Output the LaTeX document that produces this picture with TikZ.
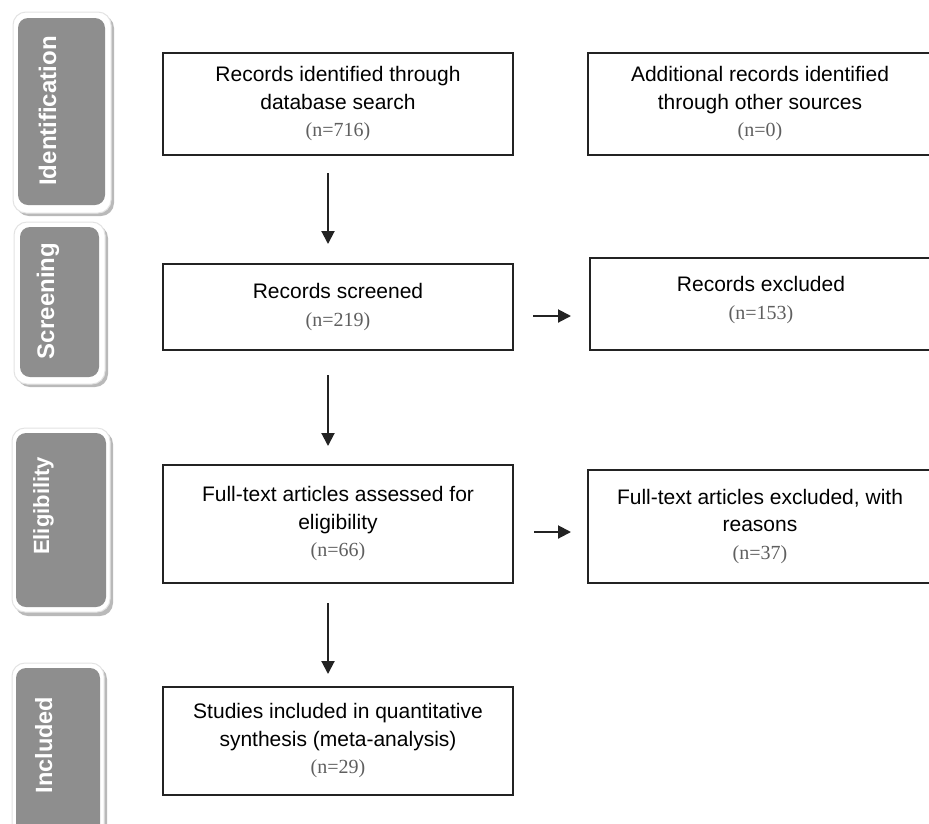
\documentclass[tikz,border=0pt]{standalone}
\usepackage{fontspec}
\setmainfont{Liberation Sans}
\newfontfamily\nserif{Liberation Serif}
\usetikzlibrary{arrows.meta}
\definecolor{tabgray}{RGB}{142,142,142}
\definecolor{ngray}{RGB}{95,95,95}
\definecolor{boxline}{RGB}{35,35,35}
\newcommand{\nval}[1]{{\nserif\fontsize{20}{27.5}\selectfont\color{ngray}#1}}
\tikzset{
  flowbox/.style={draw=boxline, line width=2pt, fill=white, align=center,
    inner sep=0pt, font=\fontsize{21}{27.5}\selectfont},
  flowarrow/.style={draw=boxline, line width=2pt, -{Triangle[length=13pt,width=13pt]}},
  tabshadow/.style={fill=gray!55, draw=none, rounded corners=13pt},
  tabouter/.style={fill=white, draw=gray!22, line width=1pt, rounded corners=13pt},
  tabinner/.style={fill=tabgray, draw=none, rounded corners=10pt},
  tablabel/.style={rotate=90, text=white, anchor=base, inner sep=0pt,
    font=\bfseries\fontsize{24}{28}\selectfont}
}
\begin{document}
\begin{tikzpicture}[x=1pt, y=-1pt]
\useasboundingbox (0,0) rectangle (929,823);
\fill[white] (0,0) rectangle (929,823);

% ---- side tabs ----
% Identification
\path[tabshadow] (16,15) rectangle (114,216);
\path[tabouter] (13,12) rectangle (111,213);
\path[tabinner] (18,18) rectangle (105,205);
\node[tablabel] (tid) at (56,111) {Identification};
% Screening
\path[tabshadow] (17,225) rectangle (108,387);
\path[tabouter] (14,222) rectangle (105,384);
\path[tabinner] (20,227) rectangle (99,377);
\node[tablabel] (tsc) at (54,301) {Screening};
% Eligibility
\path[tabshadow] (15,431) rectangle (113,616);
\path[tabouter] (12,428) rectangle (110,612);
\path[tabinner] (16,433) rectangle (106,607);
\node[tablabel, font=\bfseries\fontsize{22}{26}\selectfont] (tel) at (49,506) {Eligibility};
% Included
\path[tabshadow] (15,666) rectangle (107,850);
\path[tabouter] (12,663) rectangle (104,846);
\path[tabinner] (16,668) rectangle (100,840);
\node[tablabel, font=\bfseries\fontsize{23.5}{28}\selectfont] (tin) at (52,745) {Included};

% ---- boxes ----
\node[flowbox, minimum width=350pt, minimum height=102pt] (b1) at (338,104)
  {Records identified through\\ database search\\ \nval{(n=716)}};
\node[flowbox, minimum width=344pt, minimum height=102pt] (b2) at (760,104)
  {Additional records identified\\ through other sources\\ \nval{(n=0)}};
\node[flowbox, minimum width=350pt, minimum height=86pt] (b3) at (338,307)
  {Records screened\\ \nval{(n=219)}};
\node[flowbox, minimum width=342pt, minimum height=92pt] (b4) at (761,304)
  {Records excluded\\ \nval{(n=153)}\\[-15pt]\mbox{}};
\node[flowbox, minimum width=350pt, minimum height=118pt] (b5) at (338,524)
  {Full-text articles assessed for\\ eligibility\\ \nval{(n=66)}};
\node[flowbox, minimum width=344pt, minimum height=113pt] (b6) at (760,526.5)
  {Full-text articles excluded, with\\ reasons\\ \nval{(n=37)}};
\node[flowbox, minimum width=350pt, minimum height=108pt] (b7) at (338,741)
  {Studies included in quantitative\\ synthesis (meta-analysis)\\ \nval{(n=29)}};

% ---- connectors ----
\draw[flowarrow, shorten <=17pt, shorten >=19pt]
  ([xshift=-10pt]b1.south) -- ([xshift=-10pt]b3.north);
\draw[flowarrow, shorten <=24pt, shorten >=18pt]
  ([xshift=-10pt]b3.south) -- ([xshift=-10pt]b5.north);
\draw[flowarrow, shorten <=19pt, shorten >=12pt]
  ([xshift=-10pt]b5.south) -- ([xshift=-10pt]b7.north);
\draw[flowarrow, shorten <=19pt, shorten >=18pt]
  ([yshift=-9pt]b3.east) -- ([yshift=-9pt]b3.east -| b4.west);
\draw[flowarrow, shorten <=20pt, shorten >=16pt]
  ([yshift=-8pt]b5.east) -- ([yshift=-8pt]b5.east -| b6.west);
\end{tikzpicture}
\end{document}
